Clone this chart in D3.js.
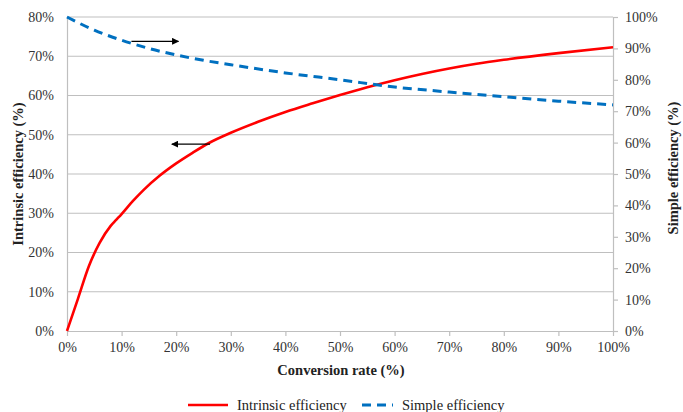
<!DOCTYPE html>
<html><head><meta charset="utf-8">
<script src="https://cdn.jsdelivr.net/npm/d3@7"></script>
<style>body{margin:0;background:#fff}svg{display:block}</style>
</head><body><svg id="c" width="683" height="412"></svg>
<script>
const conversion = [0, 2, 4, 6, 8, 9, 10, 12, 14, 17, 20, 23, 26, 30, 35, 40, 45, 50, 55, 60, 65, 70, 75, 80, 90, 100];
const intrinsic = [0, 8.2, 16.5, 22.5, 26.8, 28.3, 29.8, 33.0, 35.9, 39.6, 42.7, 45.4, 47.9, 50.5, 53.3, 55.8, 58.0, 60.1, 62.1, 63.9, 65.5, 66.9, 68.1, 69.1, 70.8, 72.3];
const simpleX = [0, 5, 10, 15, 20, 25, 30, 40, 50, 60, 70, 80, 90, 100];
const simple = [100, 95.8, 92.6, 90.0, 87.9, 86.2, 84.8, 82.2, 80.0, 77.7, 76.1, 74.6, 73.2, 72.0];
const xTicks = [0,10,20,30,40,50,60,70,80,90,100];
const leftTicks = [0,10,20,30,40,50,60,70,80];
const rightTicks = [0,10,20,30,40,50,60,70,80,90,100];
const seriesNames = ["Intrinsic efficiency", "Simple efficiency"];
const titles = {x:"Conversion rate (%)", yl:"Intrinsic efficiency (%)", yr:"Simple efficiency (%)"};

const FONT = "'Liberation Serif', 'Times New Roman', 'DejaVu Serif', serif";
const svg = d3.select("#c").attr("font-family", FONT);
const L=67, R=613, T=17, B=331;
const x = d3.scaleLinear().domain([0,100]).range([L,R]);
const yl = d3.scaleLinear().domain([0,80]).range([B,T]);
const yr = d3.scaleLinear().domain([0,100]).range([B,T]);
const grid="#bfbfbf";

svg.append("g").selectAll("line").data(leftTicks.filter(d=>d>0)).join("line")
  .attr("x1",L).attr("x2",R).attr("y1",d=>yl(d)).attr("y2",d=>yl(d))
  .attr("stroke",grid).attr("stroke-width",1.2);

const fmt = d=>d+"%";
function styleAxis(g){
  g.attr("font-family", FONT).attr("font-size",14);
  g.select(".domain").attr("stroke",grid).attr("stroke-width",1.2);
  g.selectAll(".tick line").attr("stroke",grid).attr("stroke-width",1.2);
  g.selectAll(".tick text").attr("fill","#333");
}
svg.append("g").attr("transform",`translate(0,${B})`)
  .call(d3.axisBottom(x).tickValues(xTicks).tickFormat(fmt).tickSize(5).tickSizeOuter(0).tickPadding(6))
  .call(styleAxis);
svg.append("g").attr("transform",`translate(${L},0)`)
  .call(d3.axisLeft(yl).tickValues(leftTicks).tickFormat(fmt).tickSize(0).tickSizeOuter(0).tickPadding(13))
  .call(styleAxis);
svg.append("g").attr("transform",`translate(${R},0)`)
  .call(d3.axisRight(yr).tickValues(rightTicks).tickFormat(fmt).tickSize(5).tickSizeOuter(0).tickPadding(7))
  .call(styleAxis);

svg.append("text").attr("x",341).attr("y",375).attr("text-anchor","middle")
  .attr("font-size",14.5).attr("font-weight","bold").attr("fill","#222").text(titles.x);
svg.append("text").attr("transform",`translate(23,174) rotate(-90)`).attr("text-anchor","middle")
  .attr("font-size",14.5).attr("font-weight","bold").attr("fill","#222").text(titles.yl);
svg.append("text").attr("transform",`translate(678,168) rotate(-90)`).attr("text-anchor","middle")
  .attr("font-size",14.5).attr("font-weight","bold").attr("fill","#222").text(titles.yr);

const lineI = d3.line().x((d,i)=>x(conversion[i])).y(d=>yl(d)).curve(d3.curveMonotoneX);
svg.append("path").attr("d",lineI(intrinsic)).attr("fill","none").attr("stroke","#ff0000").attr("stroke-width",2.6);
const lineS = d3.line().x((d,i)=>x(simpleX[i])).y(d=>yr(d)).curve(d3.curveMonotoneX);
svg.append("path").attr("d",lineS(simple)).attr("fill","none").attr("stroke","#0070c0").attr("stroke-width",3).attr("stroke-dasharray","9,6");

const defs = svg.append("defs");
defs.append("marker").attr("id","ah").attr("viewBox","0 0 10 10").attr("refX",9).attr("refY",5)
  .attr("markerWidth",7).attr("markerHeight",7).attr("markerUnits","userSpaceOnUse").attr("orient","auto")
  .append("path").attr("d","M0,0L10,5L0,10Z").attr("fill","#000");
svg.append("line").attr("x1",x(11.8)).attr("x2",x(20.4)).attr("y1",yl(73.8)).attr("y2",yl(73.8))
  .attr("stroke","#000").attr("stroke-width",1.3).attr("marker-end","url(#ah)");
svg.append("line").attr("x1",x(26.2)).attr("x2",x(19.2)).attr("y1",yl(47.6)).attr("y2",yl(47.6))
  .attr("stroke","#000").attr("stroke-width",1.3).attr("marker-end","url(#ah)");

const lg = svg.append("g");
lg.append("line").attr("x1",188).attr("x2",228).attr("y1",405).attr("y2",405).attr("stroke","#ff0000").attr("stroke-width",2.6);
lg.append("text").attr("x",237).attr("y",410).attr("font-size",14.5).attr("fill","#222").text(seriesNames[0]);
lg.append("line").attr("x1",362).attr("x2",393).attr("y1",405).attr("y2",405).attr("stroke","#0070c0").attr("stroke-width",3).attr("stroke-dasharray","9,6");
lg.append("text").attr("x",402).attr("y",410).attr("font-size",14.5).attr("fill","#222").text(seriesNames[1]);
</script></body></html>
